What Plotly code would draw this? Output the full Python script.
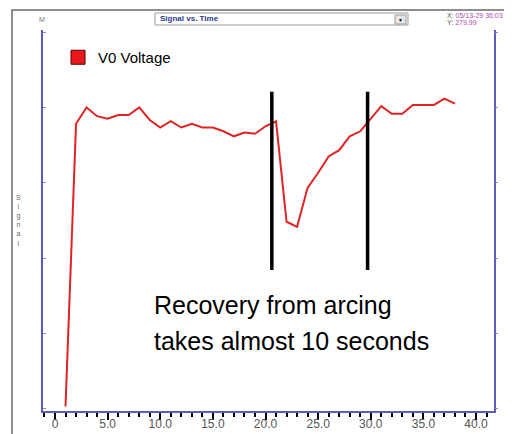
import plotly.graph_objects as go

# ---- data ----
time_s = list(range(1, 39))
v0_voltage = [2, 227, 240, 233, 231, 234, 234, 240, 230, 224,
              229, 224, 227, 224, 224, 221, 217, 220, 219, 225,
              229, 149, 145, 176, 188, 201, 206, 217, 221, 231,
              241, 235, 235, 242, 242, 242, 247, 243]
marker_times = [20.6, 29.7]
marker_top = 252.5
marker_bottom = 110.6
x_tick_vals = [0, 5, 10, 15, 20, 25, 30, 35, 40]
x_tick_text = ["0", "5.0", "10.0", "15.0", "20.0", "25.0", "30.0", "35.0", "40.0"]
y_tick_vals = [0, 60, 120, 180, 240, 300]
note_lines = ["Recovery from arcing", "takes almost 10 seconds"]

# ---- layout geometry (page has an 8px body margin) ----
OFF = 8
W, H = 512 - OFF, 434 - OFF
L, T = 43 - OFF, 30 - OFF
R = W - (494 - OFF)
B = H - (411 - OFF)
PW, PH = W - L - R, H - T - B
AXIS_BLUE = "#5c5cc0"
FONT = "Liberation Sans, Arial"


def px(xp):
    return (xp - OFF - L) / PW


def py(yp):
    return (H - B - (yp - OFF)) / PH


fig = go.Figure()

fig.add_trace(go.Scatter(
    x=time_s, y=v0_voltage, mode="lines",
    line=dict(color="#e02424", width=2),
    showlegend=False, hoverinfo="skip"))

fig.add_trace(go.Scatter(
    x=[None], y=[None], mode="markers", name="V0 Voltage",
    marker=dict(symbol="square", size=14, color="#e8191c",
                line=dict(color="#5a0000", width=1)),
    showlegend=True))

# right axis ticks
fig.add_trace(go.Scatter(x=[None], y=[None], yaxis="y2", showlegend=False))

for t in marker_times:
    fig.add_shape(type="line", xref="x", yref="y",
                  x0=t, x1=t, y0=marker_bottom, y1=marker_top,
                  line=dict(color="black", width=3.5))

# outer window frame
fig.add_shape(type="path", xref="paper", yref="paper",
              path=f"M {px(12)} {py(440)} L {px(12)} {py(10)} L {px(520)} {py(10)}",
              line=dict(color="#6a6a6a", width=1.5))

# drop-down box
fig.add_shape(type="rect", xref="paper", yref="paper",
              x0=px(155), x1=px(408), y0=py(25), y1=py(13),
              line=dict(color="#9a9a9a", width=1), fillcolor="white")
fig.add_shape(type="rect", xref="paper", yref="paper",
              x0=px(395), x1=px(406), y0=py(24), y1=py(15),
              line=dict(color="#9a9a9a", width=1), fillcolor="#e6e6e6")
fig.add_annotation(x=px(400.5), y=py(19.5), xref="paper", yref="paper",
                   text="▼", showarrow=False, font=dict(size=5, color="black"),
                   xanchor="center", yanchor="middle")
fig.add_annotation(x=px(158), y=py(19), xref="paper", yref="paper",
                   text="<b>Signal vs. Time</b>", showarrow=False,
                   font=dict(family=FONT, size=8, color="#2c3c8c"),
                   xanchor="left", yanchor="middle")

fig.add_annotation(x=px(42), y=py(20), xref="paper", yref="paper",
                   text="M", showarrow=False,
                   font=dict(family=FONT, size=7, color="#777"),
                   xanchor="center", yanchor="middle")
fig.add_annotation(x=px(445), y=py(15), xref="paper", yref="paper",
                   text="X: <span style='color:#b048b0'>05/13-29 36:03</span>",
                   showarrow=False,
                   font=dict(family=FONT, size=7, color="#555"),
                   xanchor="left", yanchor="middle")
fig.add_annotation(x=px(445), y=py(22.5), xref="paper", yref="paper",
                   text="Y: <span style='color:#b048b0'>279.99</span>",
                   showarrow=False,
                   font=dict(family=FONT, size=7, color="#555"),
                   xanchor="left", yanchor="middle")

# stacked y label
fig.add_annotation(x=px(18.5), y=py(220), xref="paper", yref="paper",
                   text="<br>".join("Signal"), showarrow=False,
                   font=dict(family=FONT, size=7, color="#666"),
                   xanchor="center", yanchor="middle")

# note text
for i, line in enumerate(note_lines):
    fig.add_annotation(x=px(152), y=py(305 + 36 * i), xref="paper", yref="paper",
                       text=line, showarrow=False,
                       font=dict(family=FONT, size=25, color="black"),
                       xanchor="left", yanchor="middle")

fig.update_layout(
    width=W, height=H,
    margin=dict(l=L, r=R, t=T, b=B, pad=0, autoexpand=False),
    paper_bgcolor="white", plot_bgcolor="white",
    showlegend=True,
    legend=dict(x=px(58), y=py(41), xanchor="left", yanchor="top",
                bgcolor="rgba(0,0,0,0)",
                font=dict(family=FONT, size=15, color="black")),
    xaxis=dict(range=[-1.14, 41.71], showgrid=False, zeroline=False,
               automargin=False,
               showline=True, linecolor=AXIS_BLUE, linewidth=2, mirror=False,
               ticks="outside", tickcolor="black", ticklen=7, tickwidth=1.5,
               ticklabelstandoff=-6,
               tickvals=x_tick_vals, ticktext=x_tick_text,
               tickfont=dict(family=FONT, size=12, color="#555"),
               minor=dict(dtick=1, ticks="outside", ticklen=4, tickcolor="black",
                          tickwidth=1.5, showgrid=False)),
    yaxis=dict(range=[-1.6, 301.6], showgrid=False, zeroline=False,
               automargin=False,
               showline=True, linecolor=AXIS_BLUE, linewidth=2, mirror=True,
               ticks="inside", ticklen=3, tickcolor="#8888cc",
               tickvals=y_tick_vals, showticklabels=False),
    yaxis2=dict(range=[-1.6, 301.6], overlaying="y", side="right",
                automargin=False,
                showgrid=False, zeroline=False, showline=False,
                ticks="outside", ticklen=3, tickcolor="#8888cc",
                tickvals=y_tick_vals, showticklabels=False),
)

fig.write_html("out.html")
